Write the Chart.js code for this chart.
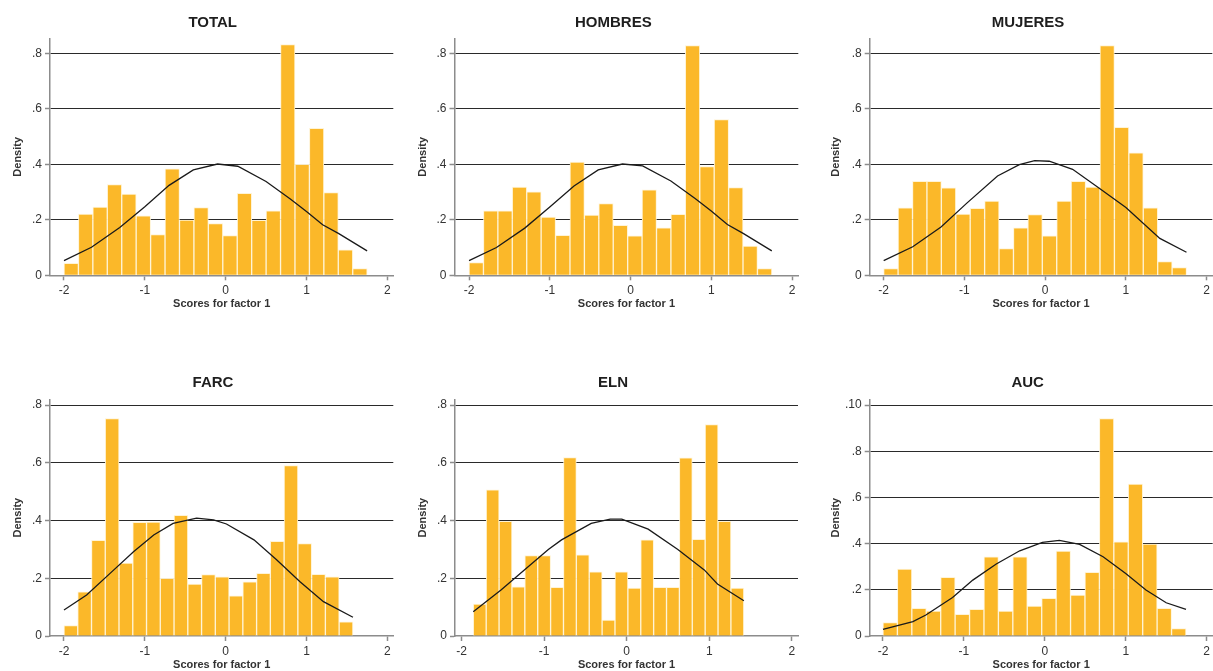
<!DOCTYPE html>
<html>
<head>
<meta charset="utf-8">
<title>Scores for factor 1</title>
<script src="https://cdn.jsdelivr.net/npm/chart.js@4.4.0/dist/chart.umd.min.js"></script>
<style>
  body { margin: 0; background: #fff; }
  #wrap { position: relative; width: 1213px; height: 671px; overflow: hidden; }
  canvas { position: absolute; }
</style>
</head>
<body>
<div id="wrap">
  <canvas id="c1"></canvas>
  <canvas id="c2"></canvas>
  <canvas id="c3"></canvas>
  <canvas id="c4"></canvas>
  <canvas id="c5"></canvas>
  <canvas id="c6"></canvas>
</div>
<script>
// ---- data ----
const xTickValues = [-2, -1, 0, 1, 2];
const xTickLabels = ['-2', '-1', '0', '1', '2'];
const yTickValues = [0, 0.2, 0.4, 0.6, 0.8];
const yTickLabels = ['0', '.2', '.4', '.6', '.8'];
const aucYTickValues = [0, 0.2, 0.4, 0.6, 0.8, 1.0];
const aucYTickLabels = ['0', '.2', '.4', '.6', '.8', '.10'];

const panelTitles = ['TOTAL', 'HOMBRES', 'MUJERES', 'FARC', 'ELN', 'AUC'];
// first bin edge and bin width of each histogram
const binStart = [-2, -2, -2, -2, -1.859, -2];
const binWidth = [0.1786, 0.1786, 0.1786, 0.1702, 0.1561, 0.1783];

const totalDensity = [0.043, 0.221, 0.246, 0.327, 0.293, 0.214, 0.147, 0.384, 0.199, 0.244, 0.186,
                      0.143, 0.295, 0.198, 0.232, 0.831, 0.400, 0.530, 0.298, 0.092, 0.024];
const hombresDensity = [0.046, 0.232, 0.232, 0.318, 0.301, 0.210, 0.144, 0.408, 0.217, 0.258, 0.180,
                        0.142, 0.308, 0.171, 0.220, 0.828, 0.392, 0.561, 0.316, 0.105, 0.024];
const mujeresDensity = [0.024, 0.243, 0.339, 0.339, 0.315, 0.221, 0.241, 0.267, 0.096, 0.171, 0.219,
                        0.142, 0.267, 0.339, 0.318, 0.828, 0.533, 0.441, 0.243, 0.049, 0.028];
const farcDensity = [0.036, 0.153, 0.331, 0.753, 0.253, 0.394, 0.395, 0.200, 0.418, 0.180, 0.213,
                     0.205, 0.139, 0.188, 0.217, 0.328, 0.590, 0.320, 0.214, 0.205, 0.049];
const elnDensity = [0.111, 0.506, 0.397, 0.170, 0.279, 0.279, 0.169, 0.618, 0.281, 0.222, 0.055,
                    0.222, 0.166, 0.333, 0.169, 0.169, 0.617, 0.335, 0.732, 0.397, 0.166];
const aucDensity = [0.058, 0.290, 0.120, 0.108, 0.254, 0.094, 0.115, 0.343, 0.108, 0.343, 0.130,
                    0.163, 0.368, 0.177, 0.276, 0.942, 0.408, 0.658, 0.398, 0.120, 0.032];

// normal density overlay
const totalCurveX = [-2.0, -1.66, -1.31, -1.0, -0.7, -0.4, -0.1, 0.15, 0.5, 0.8, 1.0, 1.2, 1.4, 1.75];
const totalCurveY = [0.053, 0.101, 0.172, 0.247, 0.324, 0.380, 0.401, 0.393, 0.338, 0.275, 0.230, 0.182, 0.150, 0.088];
const hombresCurveX = [-2.0, -1.66, -1.31, -1.0, -0.7, -0.4, -0.1, 0.15, 0.5, 0.8, 1.0, 1.2, 1.4, 1.75];
const hombresCurveY = [0.053, 0.100, 0.170, 0.246, 0.322, 0.380, 0.401, 0.394, 0.340, 0.277, 0.232, 0.183, 0.150, 0.088];
const mujeresCurveX = [-2.0, -1.64, -1.29, -0.97, -0.59, -0.32, -0.13, 0.05, 0.34, 0.67, 1.0, 1.42, 1.75];
const mujeresCurveY = [0.053, 0.103, 0.174, 0.260, 0.358, 0.399, 0.413, 0.411, 0.382, 0.314, 0.244, 0.133, 0.083];
const farcCurveX = [-2.0, -1.72, -1.43, -1.14, -0.89, -0.65, -0.36, -0.15, 0.01, 0.35, 0.63, 0.92, 1.21, 1.575];
const farcCurveY = [0.090, 0.142, 0.217, 0.292, 0.350, 0.390, 0.408, 0.402, 0.388, 0.333, 0.264, 0.188, 0.119, 0.065];
const elnCurveX = [-1.86, -1.52, -1.23, -0.95, -0.79, -0.43, -0.2, -0.06, 0.26, 0.62, 0.94, 1.1, 1.42];
const elnCurveY = [0.084, 0.160, 0.231, 0.300, 0.333, 0.390, 0.405, 0.405, 0.370, 0.300, 0.229, 0.180, 0.122];
const aucCurveX = [-2.0, -1.63, -1.47, -1.14, -0.89, -0.6, -0.31, -0.03, 0.18, 0.43, 0.72, 1.0, 1.25, 1.5, 1.745];
const aucCurveY = [0.029, 0.062, 0.091, 0.167, 0.242, 0.312, 0.369, 0.405, 0.414, 0.397, 0.343, 0.271, 0.199, 0.144, 0.115];

// ---- look ----
const FONT = "'Liberation Sans', Arial, sans-serif";
const BAR_COLOR = '#fbb829';
const AXIS_COLOR = '#8c8c8c';
const GRID_COLOR = '#2a2a2a';

const topRow = { top: 0, h: 316, titleTop: 13.7, titleBottom: 6.6, xH: 40.7, xTitlePad: 5.4, yMax: 0.854 };
const bottomRow = { top: 360, h: 311, titleTop: 14, titleBottom: 7.3, xH: 35, xTitlePad: -0.6, yMax: 0.82 };

const panels = [
  { id: 'c1', row: topRow, left: 0, w: 405, padL: 32.1, padR: 11.7, yW: 17.9, yTitlePad: -20.7, xMin: -2.173, xMax: 2.074,
    bars: totalDensity, cx: totalCurveX, cy: totalCurveY },
  { id: 'c2', row: topRow, left: 405, w: 400, padL: 23.3, padR: 6.7, yW: 26.2, yTitlePad: -11.9, xMin: -2.18, xMax: 2.078,
    bars: hombresDensity, cx: hombresCurveX, cy: hombresCurveY },
  { id: 'c3', row: topRow, left: 813, w: 400, padL: 30, padR: 0, yW: 26.7, yTitlePad: -13.3, xMin: -2.173, xMax: 2.07,
    bars: mujeresDensity, cx: mujeresCurveX, cy: mujeresCurveY },
  { id: 'c4', row: bottomRow, left: 0, w: 405, padL: 32.7, padR: 11.7, yW: 17.3, yTitlePad: -21.3, xMin: -2.173, xMax: 2.074,
    bars: farcDensity, cx: farcCurveX, cy: farcCurveY },
  { id: 'c5', row: bottomRow, left: 405, w: 400, padL: 23, padR: 7, yW: 27, yTitlePad: -11.6, xMin: -2.081, xMax: 2.076,
    bars: elnDensity, cx: elnCurveX, cy: elnCurveY },
  { id: 'c6', row: bottomRow, left: 813, w: 400, padL: 29.4, padR: 0, yW: 27.3, yTitlePad: -12.7, xMin: -2.164, xMax: 2.074,
    bars: aucDensity, cx: aucCurveX, cy: aucCurveY, yMax: 1.025, yTicks: aucYTickValues, yLabels: aucYTickLabels }
];

function makePanel(p, k) {
  const row = p.row;
  const canvas = document.getElementById(p.id);
  canvas.width = p.w;
  canvas.height = row.h;
  canvas.style.left = p.left + 'px';
  canvas.style.top = row.top + 'px';
  canvas.style.width = p.w + 'px';
  canvas.style.height = row.h + 'px';

  const yTicks = p.yTicks || yTickValues;
  const yLabels = p.yLabels || yTickLabels;
  const barPoints = p.bars.map((v, i) => ({ x: binStart[k] + (i + 0.5) * binWidth[k], y: v }));
  const curvePoints = p.cx.map((x, i) => ({ x: x, y: p.cy[i] }));

  new Chart(canvas, {
    type: 'bar',
    data: {
      datasets: [
        { type: 'line', data: curvePoints, borderColor: '#1a1a1a', borderWidth: 1.3,
          pointRadius: 0, tension: 0, fill: false, order: 0 },
        { type: 'bar', data: barPoints, backgroundColor: BAR_COLOR, borderColor: 'rgba(255,243,212,0.95)',
          borderWidth: 1, categoryPercentage: 1, barPercentage: 1, order: 1 }
      ]
    },
    options: {
      responsive: false,
      animation: false,
      devicePixelRatio: 1,
      layout: { padding: { left: p.padL, right: p.padR, top: 0, bottom: 0 } },
      plugins: {
        legend: { display: false },
        tooltip: { enabled: false },
        title: {
          display: true, text: panelTitles[k], color: '#1e1e1e',
          font: { family: FONT, size: 15, weight: 'bold', lineHeight: 1.2 },
          padding: { top: row.titleTop, bottom: row.titleBottom }
        }
      },
      scales: {
        x: {
          type: 'linear', min: p.xMin, max: p.xMax, offset: false,
          afterBuildTicks: s => { s.ticks = xTickValues.map(v => ({ value: v })); },
          afterFit: s => { s.height = row.xH; },
          ticks: { callback: (v, i) => xTickLabels[i], color: '#333', font: { family: FONT, size: 12 },
                   padding: 3, autoSkip: false, maxRotation: 0 },
          grid: { offset: false, drawOnChartArea: false, drawTicks: true, tickLength: 5,
                  tickColor: AXIS_COLOR, tickWidth: 1.5 },
          border: { display: true, color: AXIS_COLOR, width: 1.5 },
          title: { display: true, text: 'Scores for factor 1', color: '#333',
                   font: { family: FONT, size: 11, weight: 'bold', lineHeight: 1.2 },
                   padding: { top: 0, bottom: row.xTitlePad } }
        },
        y: {
          type: 'linear', min: 0, max: p.yMax || row.yMax,
          afterBuildTicks: s => { s.ticks = yTicks.map(v => ({ value: v })); },
          afterFit: s => { s.width = p.yW; },
          ticks: { callback: (v, i) => yLabels[i], color: '#333', font: { family: FONT, size: 12 },
                   padding: 3, autoSkip: false },
          grid: {
            color: c => (c.tick && c.tick.value === 0) ? 'rgba(0,0,0,0)' : GRID_COLOR,
            lineWidth: 1, drawTicks: true, tickLength: 5, tickColor: AXIS_COLOR, tickWidth: 1.5
          },
          border: { display: true, color: AXIS_COLOR, width: 1.5 },
          title: { display: true, text: 'Density', color: '#333',
                   font: { family: FONT, size: 11, weight: 'bold', lineHeight: 1.2 },
                   padding: { top: p.yTitlePad, bottom: 0 } }
        }
      }
    }
  });
}

panels.forEach(makePanel);
</script>
</body>
</html>
